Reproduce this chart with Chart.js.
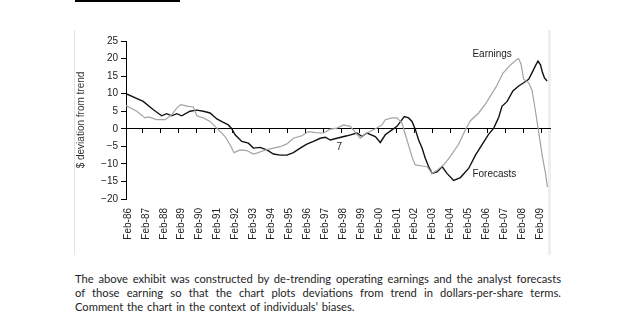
<!DOCTYPE html>
<html>
<head>
<meta charset="utf-8">
<script src="https://cdn.jsdelivr.net/npm/chart.js@4.4.0/dist/chart.umd.min.js"></script>
<style>
  body { margin: 0; background: #fff; width: 619px; height: 333px; position: relative; overflow: hidden; }
  #topRule { position: absolute; left: 75px; top: 0; width: 105px; height: 2px; background: #000; }
  #frameL { position: absolute; left: 74px; top: 30px; width: 1px; height: 225px; background: #e4e4e4; }
  #frameR { position: absolute; left: 548px; top: 30px; width: 3px; height: 225px; background: #efefef; }
  #chart { position: absolute; left: 0; top: 0; }
  #note { position: absolute; left: 75px; top: 272px; width: 486px; font-family: Lato, "Open Sans", sans-serif;
          font-size: 11.2px; line-height: 13.8px; color: #1e1e1e; }
  #note .j { text-align: justify; text-align-last: justify; }
  #note .last { white-space: nowrap; word-spacing: 1px; }
</style>
</head>
<body>
<div id="topRule"></div>
<div id="frameL"></div>
<div id="frameR"></div>
<canvas id="chart" width="619" height="260"></canvas>
<div id="note">
  <div class="j">The above exhibit was constructed by de-trending operating earnings and the analyst forecasts</div>
  <div class="j">of those earning so that the chart plots deviations from trend in dollars-per-share terms.</div>
  <div class="last">Comment the chart in the context of individuals’ biases.</div>
</div>
<script>
// $ deviation from trend (x = decimal year)
const fcstDates = [1985.97, 1986.93, 1987.48, 1987.96, 1988.24, 1988.52, 1988.80, 1989.08, 1989.54, 1989.92,
  1990.29, 1990.66, 1991.04, 1991.40, 1991.68, 1991.87, 1992.06, 1992.43, 1992.80, 1993.08,
  1993.45, 1993.83, 1994.20, 1994.57, 1994.95, 1995.31, 1995.69, 1996.06, 1996.43, 1996.81,
  1997.09, 1997.37, 1997.74, 1998.30, 1998.86, 1999.14, 1999.42, 1999.88, 2000.16, 2000.44,
  2000.81, 2001.09, 2001.37, 2001.50, 2001.74, 2001.93, 2002.11, 2002.30, 2002.49, 2002.67,
  2002.86, 2003.05, 2003.33, 2003.61, 2003.88, 2004.25, 2004.63, 2005.09, 2005.47, 2005.84,
  2006.21, 2006.49, 2006.77, 2006.95, 2007.24, 2007.56, 2007.88, 2008.16, 2008.44, 2008.63,
  2008.82, 2008.96, 2009.10, 2009.21, 2009.32, 2009.47];
const fcstValues = [10.0, 7.8, 5.5, 3.7, 4.3, 3.7, 4.3, 3.7, 5.0, 5.3,
  5.0, 4.5, 2.8, 1.8, 1.1, 0.0, -1.7, -3.6, -4.1, -5.5,
  -5.3, -6.0, -7.2, -7.5, -7.5, -6.8, -5.5, -4.4, -3.6, -2.7,
  -2.4, -3.2, -2.7, -2.0, -1.2, -2.2, -1.2, -2.2, -3.9, -1.7,
  -0.3, 0.7, 2.6, 3.5, 3.1, 2.1, -0.1, -3.2, -5.5, -8.4,
  -10.8, -12.7, -12.3, -10.8, -12.7, -14.7, -13.9, -11.3, -7.5, -4.5,
  -1.5, 0.2, 3.3, 6.4, 7.8, 10.8, 12.2, 13.1, 14.1, 16.0,
  18.0, 19.3, 18.2, 16.0, 14.5, 13.6];

const earnDates = [1985.97, 1986.57, 1987.03, 1987.21, 1987.68, 1988.15, 1988.52, 1988.80, 1989.02, 1989.45,
  1989.73, 1989.92, 1990.29, 1990.66, 1991.04, 1991.50, 1991.78, 1992.00, 1992.34, 1992.71,
  1993.08, 1993.36, 1993.64, 1994.20, 1994.57, 1994.95, 1995.31, 1995.78, 1996.15, 1996.53,
  1996.99, 1997.37, 1997.74, 1998.11, 1998.48, 1999.04, 1999.42, 1999.97, 2000.25, 2000.44,
  2000.81, 2001.09, 2001.37, 2001.65, 2001.93, 2002.11, 2002.49, 2002.77, 2003.05, 2003.33,
  2003.70, 2004.02, 2004.53, 2004.91, 2005.19, 2005.65, 2006.02, 2006.30, 2006.63, 2007.00,
  2007.37, 2007.74, 2007.88, 2008.02, 2008.16, 2008.44, 2008.63, 2008.82, 2009.00, 2009.19,
  2009.38, 2009.49];
const earnValues = [6.6, 5.0, 3.1, 3.4, 2.6, 2.6, 4.0, 5.9, 6.9, 6.4,
  6.2, 3.7, 3.1, 2.1, 0.2, -2.2, -4.6, -6.8, -6.0, -6.2,
  -7.2, -6.8, -6.2, -5.5, -5.1, -4.3, -2.7, -2.0, -0.8, -1.1,
  -1.2, -0.1, 0.2, 1.1, 0.7, -2.7, -1.2, 0.2, 1.1, 2.6,
  3.1, 3.1, 1.6, -3.2, -8.0, -10.3, -10.6, -10.8, -12.7, -11.8,
  -10.3, -8.2, -4.4, -0.3, 2.3, 4.5, 7.0, 9.3, 12.0, 15.8,
  17.9, 19.6, 20.0, 18.3, 14.1, 13.1, 11.0, 5.0, -1.0, -7.5,
  -12.7, -16.6];

// category labels on the bottom axis
const tickYears = [1986.08, 1987.08, 1988.08, 1989.08, 1990.08, 1991.08, 1992.08, 1993.08, 1994.08, 1995.08,
  1996.08, 1997.08, 1998.08, 1999.08, 2000.08, 2001.08, 2002.08, 2003.08, 2004.08, 2005.08,
  2006.08, 2007.08, 2008.08, 2009.08];
const tickLabels = ['Feb-86', 'Feb-87', 'Feb-88', 'Feb-89', 'Feb-90', 'Feb-91', 'Feb-92', 'Feb-93', 'Feb-94', 'Feb-95',
  'Feb-96', 'Feb-97', 'Feb-98', 'Feb-99', 'Feb-00', 'Feb-01', 'Feb-02', 'Feb-03', 'Feb-04', 'Feb-05',
  'Feb-06', 'Feb-07', 'Feb-08', 'Feb-09'];

// text notes placed inside the plot
const notes = [
  { text: 'Earnings', x: 2005.30, y: 21.2 },
  { text: 'Forecasts', x: 2005.30, y: -12.9 },
  { text: '7', x: 1997.72, y: -5.4 }
];

function toPoints(dates, values) {
  return dates.map((d, i) => ({ x: d, y: values[i] }));
}

Chart.defaults.font.family = '"Liberation Sans", Arial, sans-serif';
Chart.defaults.font.size = 10;
Chart.defaults.color = '#222';

const notesPlugin = {
  id: 'notes',
  afterDatasetsDraw(chart) {
    const ctx = chart.ctx;
    const xs = chart.scales.x, ys = chart.scales.y;
    ctx.save();
    ctx.font = '10px "Liberation Sans", Arial, sans-serif';
    ctx.fillStyle = '#222';
    ctx.textAlign = 'left';
    ctx.textBaseline = 'middle';
    notes.forEach(n => ctx.fillText(n.text, xs.getPixelForValue(n.x), ys.getPixelForValue(n.y)));
    ctx.restore();
  }
};

new Chart(document.getElementById('chart'), {
  type: 'line',
  data: {
    datasets: [
      { label: 'Earnings', data: toPoints(earnDates, earnValues), borderColor: '#a3a3a3', borderWidth: 1.2 },
      { label: 'Forecasts', data: toPoints(fcstDates, fcstValues), borderColor: '#111', borderWidth: 1.4 }
    ]
  },
  options: {
    responsive: false,
    animation: false,
    elements: { point: { radius: 0 }, line: { tension: 0 } },
    layout: { padding: { left: 75, right: 69, top: 41, bottom: 11 } },
    plugins: { legend: { display: false }, tooltip: { enabled: false } },
    scales: {
      x: {
        type: 'linear',
        min: 1985.97,
        max: 2009.63,
        position: 'bottom',
        border: { display: false },
        grid: { display: false, drawTicks: false },
        afterBuildTicks: s => { s.ticks = tickYears.map(v => ({ value: v })); },
        afterFit: s => { s.height = 50; },
        ticks: {
          autoSkip: false,
          minRotation: 90,
          maxRotation: 90,
          padding: 9,
          callback: (v, i) => tickLabels[i]
        }
      },
      // the zero line with its small tick marks
      x2: {
        type: 'linear',
        min: 0.11,
        max: 23.47,
        position: { y: 0 },
        border: { display: true, color: '#000', width: 1 },
        grid: { drawOnChartArea: false, drawTicks: true, tickLength: 4, color: '#000' },
        ticks: { display: false, stepSize: 1, includeBounds: false }
      },
      y: {
        min: -20,
        max: 25,
        position: 'left',
        afterFit: s => { s.width = 51; },
        border: { display: true, color: '#000', width: 1 },
        grid: { drawOnChartArea: false, drawTicks: true, tickLength: 5, color: '#000' },
        ticks: { stepSize: 5, padding: 3, callback: v => String(v).replace('-', '\u2212') },
        title: { display: true, text: '$ deviation from trend', padding: 0, color: '#333' }
      }
    }
  },
  plugins: [notesPlugin]
});
</script>
</body>
</html>
